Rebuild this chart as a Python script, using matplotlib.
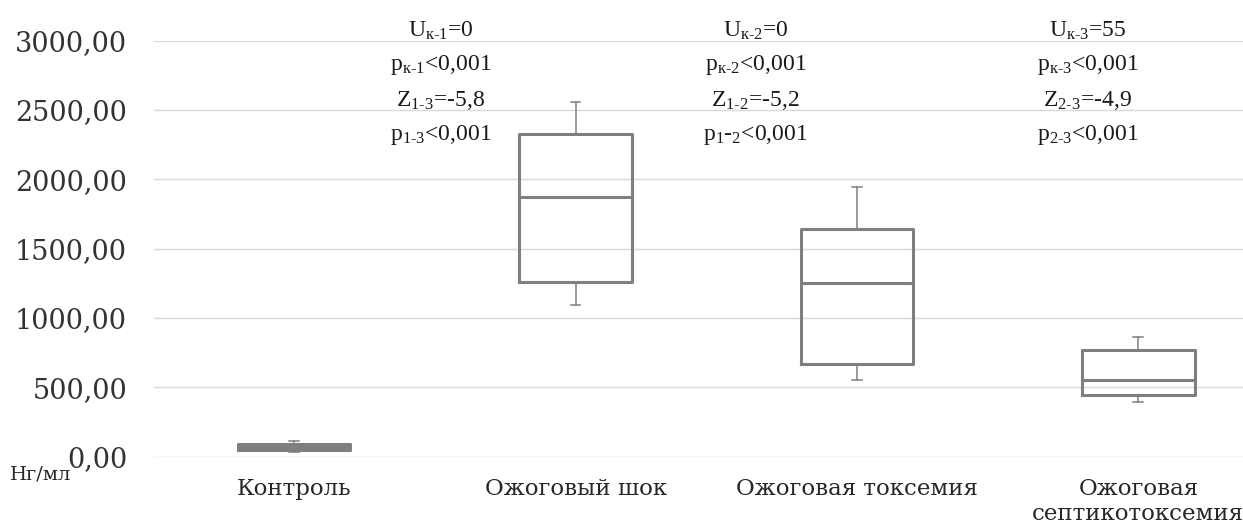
import matplotlib
matplotlib.use('Agg')
import matplotlib.pyplot as plt
from matplotlib.ticker import FuncFormatter, MultipleLocator

# data (нг/мл)
groups   = ['Контроль', 'Ожоговый шок', 'Ожоговая токсемия', 'Ожоговая\nсептикотоксемия']
wlo      = [32, 1094, 553, 397]
q1       = [47, 1262, 666, 445]
med      = [69, 1875, 1250, 553]
q3       = [90, 2327, 1642, 772]
whi      = [113, 2558, 1947, 865]

# test results written above the boxes
stat_x    = [0.52, 1.64, 2.82]
stat_rows = [
    [('U', 'к-1', '=0'), ('p', 'к-1', '<0,001'), ('Z', '1-3', '=-5,8'), ('p', '1-3', '<0,001')],
    [('U', 'к-2', '=0'), ('p', 'к-2', '<0,001'), ('Z', '1-2', '=-5,2'), ('p', '1-2', '<0,001')],
    [('U', 'к-3', '=55'), ('p', 'к-3', '<0,001'), ('Z', '2-3', '=-4,9'), ('p', '2-3', '<0,001')],
]
stat_y = [3077, 2825, 2572, 2320]

plt.rcParams['mathtext.fontset'] = 'custom'
plt.rcParams['mathtext.rm'] = 'Liberation Serif'
plt.rcParams['mathtext.it'] = 'Liberation Serif:italic'
plt.rcParams['mathtext.bf'] = 'Liberation Serif:bold'


def stat_label(main, sub, rest):
    # in the source the p1-2 line has its hyphen outside the subscript
    if main == 'p' and sub == '1-2':
        return r'$\text{p}_{\text{1}}\text{-}_{\text{2}}\text{%s}$' % rest
    return r'$\text{%s}_{\text{%s}}\text{%s}$' % (main, sub, rest)


fig = plt.figure(figsize=(12.43, 5.23), dpi=100)
ax = fig.add_axes([0.1235, 0.1268, 0.8765, 0.7954])

box_color = '#7f7f7f'
stats = []
for i in range(len(groups)):
    stats.append({'whislo': wlo[i], 'q1': q1[i], 'med': med[i], 'q3': q3[i],
                  'whishi': whi[i], 'fliers': []})

ax.bxp(stats, positions=range(len(groups)), widths=0.4, capwidths=0.035,
       showfliers=False, patch_artist=False,
       boxprops=dict(color=box_color, linewidth=2.2),
       medianprops=dict(color=box_color, linewidth=2.2),
       whiskerprops=dict(color=box_color, linewidth=1.1),
       capprops=dict(color=box_color, linewidth=1.1))

ax.set_xlim(-0.5, 3.372)
ax.set_ylim(0, 3000)
ax.yaxis.set_major_locator(MultipleLocator(500))
ax.yaxis.set_major_formatter(FuncFormatter(lambda v, p: ('%.2f' % v).replace('.', ',')))
ax.grid(axis='y', color='#d9d9d9', linewidth=1.0)
ax.set_axisbelow(True)
for s in ax.spines.values():
    s.set_visible(False)

ax.set_xticks(range(len(groups)))
ax.set_xticklabels(groups, fontfamily='DejaVu Serif', fontsize=16.5, color='#262626')
ax.tick_params(axis='x', length=0, pad=15)
ax.tick_params(axis='y', length=0, pad=19, labelsize=19.5, labelcolor='#333333')
for lab in ax.get_yticklabels():
    lab.set_fontfamily('DejaVu Serif')

for j, x in enumerate(stat_x):
    for k, y in enumerate(stat_y):
        ax.text(x, y, stat_label(*stat_rows[j][k]), ha='center', va='center',
                fontsize=17, color='#1a1a1a', clip_on=False)

fig.text(0.008, 0.093, 'Нг/мл', fontfamily='DejaVu Serif', fontsize=14,
         color='#262626', ha='left', va='center')

fig.savefig('out.png', dpi=100)
